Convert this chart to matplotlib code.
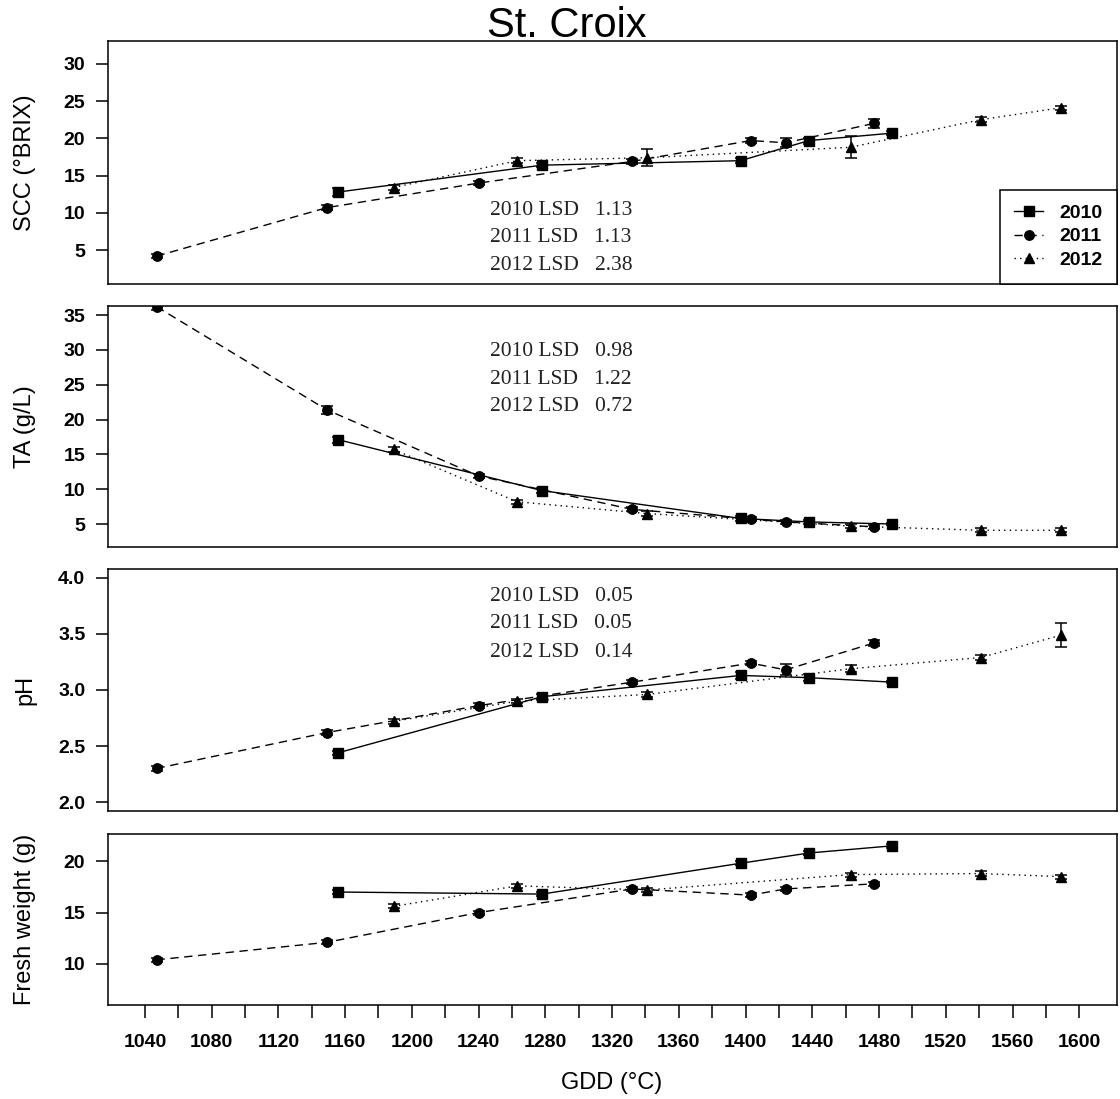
import matplotlib
matplotlib.use('Agg')
from matplotlib import pyplot as plt
from matplotlib.lines import Line2D
import numpy as np

# GDD sampling dates per season
gdd_2010 = [1156, 1278, 1397, 1438, 1488]
gdd_2011 = [1047, 1149, 1240, 1332, 1403, 1424, 1477]
gdd_2012 = [1189, 1263, 1341, 1463, 1541, 1589]

# soluble solids (SCC, Brix)
scc_2010 = [12.8, 16.4, 17.0, 19.7, 20.7]
scc_2011 = [4.2, 10.7, 14.0, 16.9, 19.7, 19.4, 22.0]
scc_2012 = [13.4, 17.0, 17.4, 18.8, 22.5, 24.1]
scc_err_2010 = [0.5, 0.3, 0.3, 0.4, 0.3]
scc_err_2011 = [0.3, 0.3, 0.3, 0.3, 0.3, 0.6, 0.6]
scc_err_2012 = [0.3, 0.3, 1.1, 1.5, 0.3, 0.3]

# titratable acidity
ta_2010 = [17.1, 9.8, 5.8, 5.3, 5.0]
ta_2011 = [36.2, 21.4, 11.9, 7.1, 5.7, 5.3, 4.6]
ta_2012 = [15.7, 8.2, 6.5, 4.7, 4.1, 4.1]
ta_err_2010 = [0.4, 0.3, 0.3, 0.3, 0.2]
ta_err_2011 = [0.5, 0.6, 0.3, 0.3, 0.3, 0.3, 0.3]
ta_err_2012 = [0.3, 0.3, 0.3, 0.3, 0.3, 0.3]

# pH
ph_2010 = [2.44, 2.94, 3.13, 3.11, 3.07]
ph_2011 = [2.30, 2.62, 2.86, 3.07, 3.24, 3.18, 3.42]
ph_2012 = [2.72, 2.90, 2.96, 3.19, 3.29, 3.49]
ph_err_2010 = [0.02, 0.02, 0.03, 0.03, 0.01]
ph_err_2011 = [0.02, 0.02, 0.02, 0.02, 0.02, 0.05, 0.03]
ph_err_2012 = [0.02, 0.02, 0.02, 0.03, 0.02, 0.11]

# fresh berry weight
fw_2010 = [17.0, 16.8, 19.8, 20.8, 21.5]
fw_2011 = [10.4, 12.1, 15.0, 17.3, 16.7, 17.3, 17.8]
fw_2012 = [15.6, 17.6, 17.2, 18.7, 18.8, 18.5]
fw_err_2010 = [0.2, 0.2, 0.2, 0.2, 0.2]
fw_err_2011 = [0.2, 0.2, 0.2, 0.2, 0.2, 0.2, 0.2]
fw_err_2012 = [0.2, 0.2, 0.2, 0.2, 0.2, 0.2]

years = ['2010', '2011', '2012']
lsd_scc = ['1.13', '1.13', '2.38']
lsd_ta = ['0.98', '1.22', '0.72']
lsd_ph = ['0.05', '0.05', '0.14']

x_ticks = list(range(1040, 1601, 20))

styles = {'2010': dict(marker='s', linestyle='-'),
          '2011': dict(marker='o', linestyle=(0, (6, 4))),
          '2012': dict(marker='^', linestyle=(0, (1, 3)))}

plt.rcParams['font.family'] = ['Liberation Sans', 'DejaVu Sans']

W, H = 1120, 1099
fig = plt.figure(figsize=(W / 100, H / 100), dpi=100)


def make_axes(top, bottom):
    left, right = 107.5, 1116.7
    return fig.add_axes([left / W, 1 - bottom / H,
                         (right - left) / W, (bottom - top) / H])


def plot_panel(ax, series, ylim, yticks, ylabel, lsd=None, lsd_y=None):
    for year, gdd, vals, err in series:
        ax.errorbar(gdd, vals, yerr=err, fmt='none', ecolor='black',
                    elinewidth=1.1, capsize=4.5, capthick=1.1, zorder=2)
        ax.plot(gdd, vals, color='black', lw=1.0, markersize=6.8,
                zorder=3, **styles[year])
    ax.set_xlim(1017.6, 1622.4)
    ax.set_ylim(*ylim)
    ax.set_yticks(yticks)
    ax.set_yticklabels([str(t) for t in yticks])
    ax.tick_params(axis='y', length=9, width=1.1, pad=7, labelsize=14)
    for lab in ax.get_yticklabels():
        lab.set_fontweight('bold')
    for sp in ax.spines.values():
        sp.set_linewidth(1.1)
    ax.set_xticks([])
    bb = ax.get_position()
    fig.text(25 / W, bb.y0 + bb.height / 2, ylabel, rotation=90,
             ha='center', va='center', fontsize=17)
    if lsd is not None:
        for i, (yr, v) in enumerate(zip(years, lsd)):
            ax.text(0.379, lsd_y[i], yr + ' LSD   ' + v,
                    transform=ax.transAxes, family='Liberation Serif',
                    fontsize=15.5, color='#222222', va='center')


ax1 = make_axes(41, 283.5)
plot_panel(ax1, [('2010', gdd_2010, scc_2010, scc_err_2010),
                 ('2011', gdd_2011, scc_2011, scc_err_2011),
                 ('2012', gdd_2012, scc_2012, scc_err_2012)],
           (0.53, 33.05), [5, 10, 15, 20, 25, 30], 'SCC (°BRIX)',
           lsd_scc, [0.3025, 0.19, 0.0755])

ax2 = make_axes(306, 547)
plot_panel(ax2, [('2010', gdd_2010, ta_2010, ta_err_2010),
                 ('2011', gdd_2011, ta_2011, ta_err_2011),
                 ('2012', gdd_2012, ta_2012, ta_err_2012)],
           (1.7, 36.3), [5, 10, 15, 20, 25, 30, 35], 'TA (g/L)',
           lsd_ta, [0.813, 0.697, 0.581])

ax3 = make_axes(569, 811)
plot_panel(ax3, [('2010', gdd_2010, ph_2010, ph_err_2010),
                 ('2011', gdd_2011, ph_2011, ph_err_2011),
                 ('2012', gdd_2012, ph_2012, ph_err_2012)],
           (1.92, 4.08), [2.0, 2.5, 3.0, 3.5, 4.0], 'pH',
           lsd_ph, [0.888, 0.773, 0.657])

ax4 = make_axes(834, 1005)
plot_panel(ax4, [('2010', gdd_2010, fw_2010, fw_err_2010),
                 ('2011', gdd_2011, fw_2011, fw_err_2011),
                 ('2012', gdd_2012, fw_2012, fw_err_2012)],
           (6.0, 22.65), [10, 15, 20], 'Fresh weight (g)')

ax4.set_xticks(x_ticks)
ax4.set_xticklabels([str(t) if (t - 1040) % 40 == 0 else '' for t in x_ticks])
ax4.tick_params(axis='x', length=9, width=1.1, pad=12, labelsize=14)
for lab in ax4.get_xticklabels():
    lab.set_fontweight('bold')
fig.text(612 / W, 1 - 1083 / H, 'GDD (°C)', ha='center', va='center',
         fontsize=17)

# legend in the SCC panel
handles = [Line2D([], [], color='black', lw=1.0, markersize=6.8, **styles[y])
           for y in years]
leg = ax1.legend(handles, years, loc='lower right', bbox_to_anchor=(1, 0),
                 borderaxespad=0, fancybox=False, framealpha=1,
                 edgecolor='black', handlelength=1.5, handletextpad=0.8,
                 labelspacing=0.3, borderpad=0.75,
                 prop={'weight': 'bold', 'size': 14})
leg.get_frame().set_linewidth(1.1)

fig.text(0.506, 1 - 37 / H, 'St. Croix', ha='center', va='baseline',
         fontsize=30)

fig.savefig('out.png', dpi=100)
